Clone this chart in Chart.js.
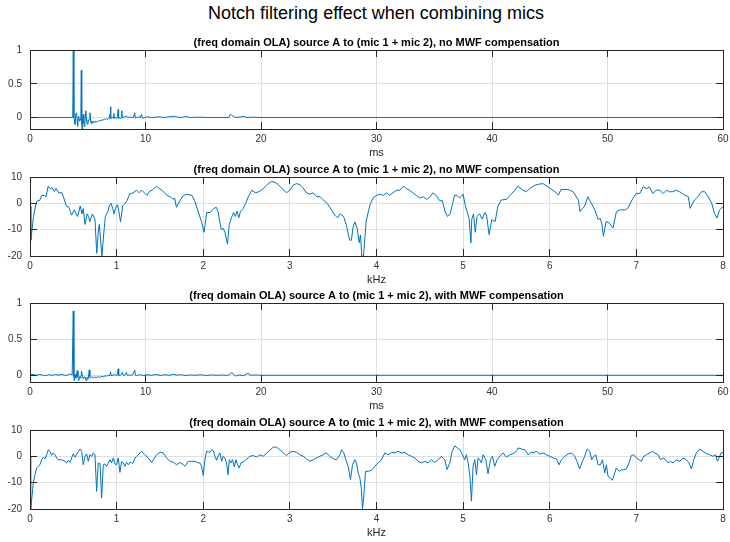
<!DOCTYPE html>
<html lang="en">
<head>
<meta charset="UTF-8">
<title>Notch filtering effect when combining mics</title>
<script src="https://cdn.jsdelivr.net/npm/chart.js"></script>
<style>
  body { margin: 0; background: #fff; width: 730px; height: 542px; position: relative; overflow: hidden;
         font-family: "Liberation Sans", Arial, Helvetica, sans-serif; }
  #suptitle { position: absolute; top: 3px; left: 0; width: 752px; text-align: center;
              font-size: 18px; line-height: 21px; color: #000; }
  .panel { position: absolute; left: 0; width: 730px; }
</style>
</head>
<body>
<div id="suptitle">Notch filtering effect when combining mics</div>

<script>
// ---- tick labels ----
const msTicks = [0, 10, 20, 30, 40, 50, 60];
const khzTicks = [0, 1, 2, 3, 4, 5, 6, 7, 8];
const irTicks = [0, 0.5, 1];
const dbTicks = [-20, -10, 0, 10];

// ---- impulse response, no MWF compensation (ms / amplitude) ----
const irTimeA = [0, 3.70, 3.745, 3.80, 3.83, 3.89, 3.96, 4.03, 4.08, 4.12,
  4.17, 4.21, 4.27, 4.32, 4.40, 4.44, 4.48, 4.52, 4.56, 4.61,
  4.66, 4.70, 4.76, 4.84, 4.90, 4.96, 5.02, 5.07, 5.13, 5.19,
  5.25, 5.30, 5.36, 5.42, 5.50, 5.58, 5.66, 5.76, 5.86, 5.95,
  6.05, 6.15, 6.25, 6.34, 6.45, 6.55, 6.62, 6.72, 6.80, 6.86,
  6.93, 6.97, 7.01, 7.05, 7.12, 7.20, 7.26, 7.30, 7.40, 7.49,
  7.58, 7.63, 7.67, 7.72, 7.80, 7.88, 7.95, 8.00, 8.07, 8.20,
  8.35, 8.50, 8.65, 8.79, 8.95, 9.07, 9.12, 9.22, 9.40, 9.55,
  9.65, 9.70, 9.79, 10.08, 10.5, 11.3, 11.5, 12.3, 12.5, 12.7,
  13.0, 13.6, 13.8, 14.6, 15.5, 17.2, 17.35, 17.45, 17.6, 17.8,
  18.3, 18.6, 18.8, 19.4, 20, 60];
const irValueA = [0, 0, 1, 0, -0.02, -0.1, 0.05, 0.07, -0.03, -0.13,
  0, 0.02, -0.05, -0.02, -0.04, 0.7, -0.1, -0.18, -0.03, 0.045,
  -0.08, -0.13, -0.05, 0.1, -0.06, -0.1, -0.04, -0.06, -0.02, 0.07,
  -0.05, -0.09, -0.05, -0.08, -0.06, -0.08, -0.05, -0.07, -0.05, -0.06,
  -0.04, -0.05, -0.03, -0.04, -0.02, -0.03, -0.02, -0.03, -0.01, -0.02,
  0.05, 0.16, 0, -0.02, 0.01, -0.01, 0.06, -0.01, 0, -0.02,
  0.02, 0.12, -0.01, 0, -0.02, 0, 0.1, -0.01, 0, 0.01,
  0.02, 0, 0.01, 0, 0, 0.07, -0.01, 0, 0.01, 0,
  0.045, 0, -0.01, 0.01, 0, 0.01, 0, 0.015, 0.02, 0.01,
  0, 0.015, 0, 0.005, 0, 0, 0.05, 0.03, 0.02, 0,
  0.01, 0.015, 0, 0.005, 0, 0];

// ---- magnitude response, no MWF compensation (kHz / dB) ----
const freqA = [0, 0.01, 0.04, 0.07, 0.085, 0.11, 0.135, 0.165, 0.185, 0.21,
  0.235, 0.255, 0.28, 0.30, 0.33, 0.37, 0.39, 0.42, 0.45, 0.48,
  0.51, 0.55, 0.58, 0.60, 0.615, 0.635, 0.66, 0.675, 0.69, 0.72,
  0.75, 0.77, 0.79, 0.80, 0.83, 0.85, 0.87, 0.90, 0.915, 0.935,
  0.955, 0.97, 0.985, 1.01, 1.03, 1.045, 1.07, 1.10, 1.12, 1.15,
  1.19, 1.23, 1.26, 1.29, 1.32, 1.35, 1.38, 1.41, 1.46, 1.50,
  1.54, 1.58, 1.62, 1.65, 1.67, 1.69, 1.73, 1.77, 1.81, 1.87,
  1.90, 1.94, 1.98, 2.01, 2.03, 2.04, 2.08, 2.12, 2.15, 2.17,
  2.19, 2.21, 2.23, 2.25, 2.28, 2.30, 2.32, 2.35, 2.37, 2.39,
  2.41, 2.43, 2.46, 2.49, 2.52, 2.56, 2.60, 2.65, 2.69, 2.75,
  2.79, 2.83, 2.87, 2.90, 2.96, 3.00, 3.04, 3.08, 3.12, 3.15,
  3.19, 3.23, 3.27, 3.31, 3.35, 3.38, 3.43, 3.48, 3.52, 3.55,
  3.58, 3.62, 3.65, 3.69, 3.71, 3.73, 3.75, 3.78, 3.80, 3.815,
  3.83, 3.85, 3.88, 3.90, 3.93, 3.96, 4.00, 4.04, 4.08, 4.12,
  4.15, 4.19, 4.23, 4.27, 4.31, 4.35, 4.38, 4.42, 4.46, 4.50,
  4.54, 4.58, 4.62, 4.65, 4.69, 4.73, 4.76, 4.79, 4.82, 4.85,
  4.88, 4.90, 4.93, 4.96, 5.00, 5.02, 5.04, 5.07, 5.09, 5.10,
  5.12, 5.14, 5.16, 5.19, 5.22, 5.25, 5.27, 5.30, 5.33, 5.37,
  5.40, 5.44, 5.50, 5.56, 5.60, 5.63, 5.69, 5.73, 5.77, 5.83,
  5.87, 5.92, 5.98, 6.06, 6.10, 6.13, 6.21, 6.27, 6.33, 6.35,
  6.38, 6.40, 6.44, 6.48, 6.52, 6.56, 6.58, 6.60, 6.62, 6.65,
  6.69, 6.73, 6.77, 6.81, 6.87, 6.90, 6.96, 7.00, 7.04, 7.08,
  7.12, 7.15, 7.19, 7.23, 7.27, 7.31, 7.35, 7.38, 7.42, 7.46,
  7.50, 7.56, 7.60, 7.62, 7.67, 7.71, 7.75, 7.79, 7.83, 7.87,
  7.90, 7.93, 7.96, 8.00];
const magA = [-1, -14, -5, 0, 1, 1, 3, 3, 2.5, 6.5,
  5.5, 6, 4.5, 5.75, 4, 4, 2, -1, -1.5, -4.5,
  -2.5, -5, -1, -4, -2, -8, -4, -5, -7, -4,
  -6, -19, -10, -8, -20, -12, -5, -3, -1, 0,
  -2, -4, -2, -0.5, -4, -7, -1, 0, 1, 3.5,
  4, 5, 4, 5, 4, 3, 4.5, 5, 6.5, 5.5,
  4.5, 3, 2.5, 1.5, 2, -1.5, 1, 3, 3.5, 3,
  1, -3, -7, -11, -6, -3.5, -3.5, -2, -1.5, -3,
  -7, -10, -9.5, -11, -15.5, -8, -6, -3.5, -5, -3,
  -5.5, -3, -2, 0, 2.5, 5, 4, 4.5, 5.5, 7.5,
  8.3, 8, 7, 6, 4, 5, 7, 7.5, 7, 6,
  4, 3.5, 4, 2.5, 2.5, 1.5, 0, -2.5, -4.5, -5.5,
  -4, -5, -8, -14, -14, -9, -7, -10, -15, -12,
  -20, -20, -7, -4, 0, 2, 3, 3.5, 3, 4,
  3, 4, 5, 5, 6.5, 5.5, 5, 4, 3, 2,
  2.5, 1.5, 2.5, 4, 3, 1, 1, -3, -5, -4,
  0, 3, 3, 2, 3.5, 0, -2.5, -6, -15, -6,
  -4, -11, -5, -4, -6, -3.5, -4.4, -11.9, -6.25, -6.9,
  -1.25, 1.25, 1.5, 3.75, 5, 6.5, 5, 4.4, 5.6, 6.9,
  7.25, 7.5, 6.25, 4.4, 3.1, 5.25, 5.25, 4.4, 1.25, -3.1,
  -1.9, -1.25, 2.5, 0, -2.5, -6.25, -5.6, -7.5, -12.5, -6.9,
  -7.5, -9.4, -3.1, -2.5, -2.5, -1.9, 1.9, 3.75, 3.75, 6.25,
  5.6, 6.25, 3.75, 5, 5, 3.75, 5, 4.4, 4.4, 5,
  4.4, 3.1, 2.5, -1.9, 1.25, 2.5, 4.4, 4.4, 2.5, 0,
  -3.75, -5.6, -2.5, -1.25];

// ---- impulse response, with MWF compensation ----
const irTimeB = [0, 0.25, 0.5, 0.8, 1.1, 1.35, 1.6, 1.9, 2.2, 2.5,
  2.8, 3.1, 3.3, 3.5, 3.65, 3.745, 3.8, 3.83, 3.9, 3.98,
  4.09, 4.15, 4.21, 4.32, 4.4, 4.47, 4.55, 4.61, 4.7, 4.78,
  4.84, 4.9, 4.97, 5.04, 5.13, 5.18, 5.24, 5.35, 5.48, 5.6,
  5.75, 5.9, 6.05, 6.2, 6.35, 6.5, 6.63, 6.8, 6.92, 6.97,
  7.02, 7.1, 7.2, 7.35, 7.45, 7.55, 7.64, 7.68, 7.72, 7.85,
  8.01, 8.06, 8.12, 8.25, 8.35, 8.42, 8.5, 8.7, 8.9, 9.07,
  9.13, 9.22, 9.5, 9.8, 10.1, 10.5, 10.9, 11.3, 11.7, 12.1,
  12.4, 12.7, 13.1, 13.5, 13.9, 14.3, 14.8, 15.2, 15.7, 16.1,
  16.6, 17.0, 17.3, 17.49, 17.6, 17.8, 18.1, 18.5, 18.9, 19.0,
  19.3, 19.7, 20, 60];
const irValueB = [0.005, 0.012, 0, 0.01, 0.004, -0.006, 0.008, 0, 0.01, 0.002,
  0.012, -0.004, 0.008, 0.018, 0.004, 0.89, -0.02, -0.075, 0.01, -0.04,
  0.065, -0.02, -0.075, -0.015, -0.04, 0.055, -0.02, -0.05, -0.02, -0.03,
  -0.06, -0.08, -0.03, -0.05, 0.075, -0.02, -0.04, -0.02, -0.035, -0.025,
  -0.03, -0.02, -0.028, -0.015, -0.02, -0.008, -0.012, 0, -0.005, 0.05,
  -0.005, 0, -0.003, 0.015, -0.005, 0, 0.09, 0, -0.005, 0.005,
  0.04, 0, -0.003, 0.01, 0.04, 0, 0.005, 0, 0.008, 0.07,
  0, -0.005, 0.01, -0.004, 0.008, 0, 0.01, -0.002, 0.008, 0,
  0.015, 0.002, 0.008, -0.003, 0.006, 0, 0.007, -0.002, 0.005, 0,
  0.004, -0.002, 0.01, 0.04, 0.015, -0.01, 0.005, -0.005, 0.03, 0.005,
  0.002, 0.004, 0, 0];

// ---- magnitude response, with MWF compensation ----
const freqB = [0, 0.008, 0.027, 0.038, 0.058, 0.077, 0.096, 0.115, 0.135, 0.154,
  0.173, 0.192, 0.212, 0.231, 0.25, 0.269, 0.288, 0.308, 0.327, 0.365,
  0.404, 0.423, 0.442, 0.462, 0.481, 0.5, 0.519, 0.577, 0.596, 0.615,
  0.635, 0.654, 0.673, 0.692, 0.712, 0.731, 0.75, 0.769, 0.788, 0.808,
  0.827, 0.846, 0.865, 0.885, 0.904, 0.923, 0.942, 0.962, 0.981, 1.0,
  1.019, 1.038, 1.058, 1.077, 1.096, 1.115, 1.135, 1.154, 1.173, 1.192,
  1.212, 1.231, 1.25, 1.288, 1.327, 1.365, 1.404, 1.423, 1.462, 1.5,
  1.538, 1.577, 1.615, 1.654, 1.692, 1.731, 1.769, 1.788, 1.827, 1.865,
  1.904, 1.942, 1.962, 1.981, 2.0, 2.019, 2.038, 2.077, 2.096, 2.115,
  2.135, 2.154, 2.173, 2.192, 2.212, 2.231, 2.25, 2.269, 2.285, 2.3,
  2.319, 2.338, 2.358, 2.377, 2.396, 2.415, 2.435, 2.462, 2.488, 2.519,
  2.538, 2.577, 2.615, 2.654, 2.692, 2.731, 2.769, 2.808, 2.846, 2.885,
  2.923, 2.962, 3.0, 3.038, 3.077, 3.115, 3.154, 3.192, 3.231, 3.269,
  3.308, 3.346, 3.385, 3.423, 3.462, 3.5, 3.538, 3.577, 3.596, 3.623,
  3.646, 3.673, 3.7, 3.723, 3.75, 3.769, 3.788, 3.808, 3.827, 3.838,
  3.854, 3.873, 3.904, 3.942, 3.981, 4.019, 4.058, 4.096, 4.135, 4.173,
  4.212, 4.25, 4.288, 4.327, 4.365, 4.404, 4.442, 4.481, 4.519, 4.558,
  4.596, 4.635, 4.673, 4.712, 4.75, 4.788, 4.815, 4.846, 4.873, 4.904,
  4.931, 4.962, 4.992, 5.019, 5.038, 5.058, 5.077, 5.096, 5.115, 5.135,
  5.154, 5.173, 5.192, 5.212, 5.231, 5.262, 5.288, 5.315, 5.338, 5.365,
  5.392, 5.423, 5.462, 5.5, 5.538, 5.577, 5.615, 5.635, 5.673, 5.712,
  5.75, 5.788, 5.808, 5.846, 5.885, 5.923, 5.962, 6.0, 6.038, 6.077,
  6.108, 6.135, 6.173, 6.212, 6.25, 6.288, 6.315, 6.346, 6.377, 6.404,
  6.431, 6.462, 6.485, 6.508, 6.531, 6.558, 6.585, 6.608, 6.635, 6.654,
  6.673, 6.7, 6.723, 6.75, 6.769, 6.8, 6.827, 6.854, 6.885, 6.915,
  6.942, 6.969, 7.0, 7.031, 7.058, 7.085, 7.115, 7.154, 7.185, 7.212,
  7.25, 7.277, 7.308, 7.338, 7.365, 7.392, 7.423, 7.462, 7.5, 7.538,
  7.577, 7.608, 7.635, 7.662, 7.692, 7.731, 7.769, 7.808, 7.846, 7.885,
  7.915, 7.935, 7.954, 7.981, 8.0];
const magB = [0, -20, -14, -10, -7, -4.4, -3.8, -3.2, -1.3, -0.4,
  -1, 0.6, 2.5, 1.9, 0.4, 1.3, 0.6, -0.6, -1.3, -1.3,
  -1.9, -2.5, -1.5, -2.3, -0.6, 1, -0.3, 2.8, 1.9, -3.2,
  0, 0.9, -1.9, 0.6, 0, 1.3, 0.6, -13.3, -2.5, -2.8,
  -15.8, -3.2, -2.9, -3.8, -2.5, -1.3, -2.5, -0.6, -2.9, -3.2,
  -0.6, -6.1, -1.9, -2.5, -3.8, -2.3, -3.2, -2.3, -2.5, -2.5,
  -0.6, 0, 0.6, 1.9, 0.6, -0.6, -2.3, -1.3, 0.6, 1.6,
  1.3, -0.6, -1.9, -2.2, -3.2, -2.3, -3.2, -3.8, -1.9, -1.9,
  -1.9, -2.5, -2.5, -3.8, -7.3, -1.3, 1.9, 1.5, 2.5, 2.2,
  0, -1.5, 0.3, 1.3, -1.9, 0, -0.6, -2.5, -7, -1.3,
  -2.5, -1.3, -4, -1.3, -3.2, -4.4, -2.5, -2.2, -1.3, -0.6,
  0, 0.3, -0.3, 0.6, 0, 1.3, 2.3, 3.5, 3.5, 2.5,
  1.3, 0.3, 1.6, 1.9, 1.5, 0.6, 0, -1, -1.9, -1.3,
  -0.6, 0, 0.6, 1.3, 0, -0.9, -1.3, 0.6, 2.5, 1.3,
  -1.3, -3.8, -8.9, -3.2, -1.3, -2.5, -6.3, -8.2, -12.7, -20,
  -15, -5.7, -5.7, -5.3, -3.8, -2.5, -1.3, 1.3, 0.6, 1.5,
  1.3, 1.9, 1.3, 1.5, 0.6, 0, -0.6, -1.9, -2.5, -1.9,
  -2.5, -1.3, -2.3, -1.3, 0, -1.3, -5, -2.5, 1.9, 4,
  3.2, 2.5, 0.6, -1.3, 0.6, -2.5, -7, -17, -3.8, -1.3,
  -7, -0.6, -1.3, -2.5, 0.6, -1.3, -6.6, -1.3, 0, -3.8,
  -1.3, 0, 1.3, -0.3, 0.6, 1, 1.9, 3.2, 2.8, 2.5,
  0.6, 1.6, 1.3, 1.9, 0.9, 1.3, 0.6, 0, -0.6, -1,
  -3.2, -1.3, 0, 0.9, 1.3, 0, -1.9, -4.8, -1.9, 0,
  2.8, 1.9, -1.3, 0, 0.6, -3.2, -3.2, -1.3, -6.3, -3.2,
  -7.6, -8.2, -9.1, -6.3, -4.4, -5.7, -5.1, -5.1, -4.8, -2.5,
  0.3, 0.6, -0.6, -1.3, -1.9, 0, 0.6, 1.3, 1.9, 1.3,
  0.6, -1.3, -0.6, -1.3, -2.5, -1.9, -2.5, -1.3, -1.9, -0.6,
  -1.3, -2.5, -4.8, -1.3, 1.3, 2.8, 1.9, 1, 0.6, 0,
  0.6, -1.9, -0.6, 1.5, 1.3];

const TITLE_NO = '(freq domain OLA) source A to (mic 1 + mic 2), no MWF compensation';
const TITLE_WITH = '(freq domain OLA) source A to (mic 1 + mic 2), with MWF compensation';

// one entry per subplot, top = y of the plot box
const panels = [
  { top: 50,  title: TITLE_NO,   xs: irTimeA, ys: irValueA, xMax: 60, yMin: -0.17,  yMax: 1,  xTicks: msTicks,  yTicks: irTicks, xLabel: 'ms' },
  { top: 177, title: TITLE_NO,   xs: freqA,   ys: magA,     xMax: 8,  yMin: -20,    yMax: 10, xTicks: khzTicks, yTicks: dbTicks, xLabel: 'kHz' },
  { top: 303, title: TITLE_WITH, xs: irTimeB, ys: irValueB, xMax: 60, yMin: -0.093, yMax: 1,  xTicks: msTicks,  yTicks: irTicks, xLabel: 'ms' },
  { top: 430, title: TITLE_WITH, xs: freqB,   ys: magB,     xMax: 8,  yMin: -20,    yMax: 10, xTicks: khzTicks, yTicks: dbTicks, xLabel: 'kHz' }
];

const PAD_TOP = 22, PLOT_H = 79, XAXIS_H = 31, YAXIS_W = 30, PAD_RIGHT = 7;
const FONT = '"Liberation Sans", Arial, Helvetica, sans-serif';
Chart.defaults.font.family = FONT;

// box round the axes, inward ticks on all four sides, bold title above
const axesBox = {
  id: 'axesBox',
  afterDraw(chart, args, opts) {
    const { ctx, chartArea: a, scales } = chart;
    const al = p => Math.round(p - 0.5) + 0.5;
    ctx.save();
    ctx.strokeStyle = '#262626';
    ctx.lineWidth = 1;
    ctx.beginPath();
    scales.x.ticks.forEach(t => {
      const px = al(scales.x.getPixelForValue(t.value));
      ctx.moveTo(px, a.bottom); ctx.lineTo(px, a.bottom - 7);
      ctx.moveTo(px, a.top); ctx.lineTo(px, a.top + 7);
    });
    scales.y.ticks.forEach(t => {
      const py = al(scales.y.getPixelForValue(t.value));
      ctx.moveTo(a.left, py); ctx.lineTo(a.left + 7, py);
      ctx.moveTo(a.right, py); ctx.lineTo(a.right - 7, py);
    });
    ctx.stroke();
    ctx.strokeRect(al(a.left), al(a.top), Math.round(a.width), Math.round(a.height));

    ctx.fillStyle = '#000';
    ctx.font = 'bold 11px ' + FONT;
    ctx.textAlign = 'center';
    ctx.textBaseline = 'alphabetic';
    ctx.fillText(opts.text, (a.left + a.right) / 2, a.top - 4);
    ctx.restore();
  }
};

panels.forEach(p => {
  const div = document.createElement('div');
  div.className = 'panel';
  div.style.top = (p.top - PAD_TOP) + 'px';
  const canvas = document.createElement('canvas');
  canvas.width = 730;
  canvas.height = PAD_TOP + PLOT_H + XAXIS_H;
  div.appendChild(canvas);
  document.body.appendChild(div);

  new Chart(canvas, {
    type: 'line',
    data: {
      datasets: [{
        data: p.xs.map((x, i) => ({ x: x, y: p.ys[i] })),
        borderColor: '#0072BD',
        borderWidth: 1,
        pointRadius: 0,
        tension: 0,
        fill: false
      }]
    },
    options: {
      responsive: false,
      animation: false,
      devicePixelRatio: 1,
      layout: { padding: { top: PAD_TOP, right: PAD_RIGHT, left: 0, bottom: 0 } },
      plugins: {
        legend: { display: false },
        tooltip: { enabled: false },
        axesBox: { text: p.title }
      },
      scales: {
        x: {
          type: 'linear',
          min: 0,
          max: p.xMax,
          afterBuildTicks: s => { s.ticks = p.xTicks.map(v => ({ value: v })); },
          afterFit: s => { s.height = XAXIS_H; s.paddingLeft = 0; s.paddingRight = 0; },
          grid: { color: '#dfdfdf', drawTicks: false },
          border: { display: false },
          ticks: { padding: 4, color: '#333', font: { size: 10 }, maxRotation: 0, autoSkip: false,
                   callback: v => String(v) },
          title: { display: true, text: p.xLabel, color: '#262626', font: { size: 11 }, padding: 0 }
        },
        y: {
          type: 'linear',
          min: p.yMin,
          max: p.yMax,
          afterBuildTicks: s => { s.ticks = p.yTicks.map(v => ({ value: v })); },
          afterFit: s => { s.width = YAXIS_W; s.paddingTop = 0; s.paddingBottom = 0; },
          grid: { color: '#dfdfdf', drawTicks: false },
          border: { display: false },
          ticks: { padding: 8, color: '#333', font: { size: 10 }, callback: v => String(v) }
        }
      }
    },
    plugins: [axesBox]
  });
});
</script>
</body>
</html>
